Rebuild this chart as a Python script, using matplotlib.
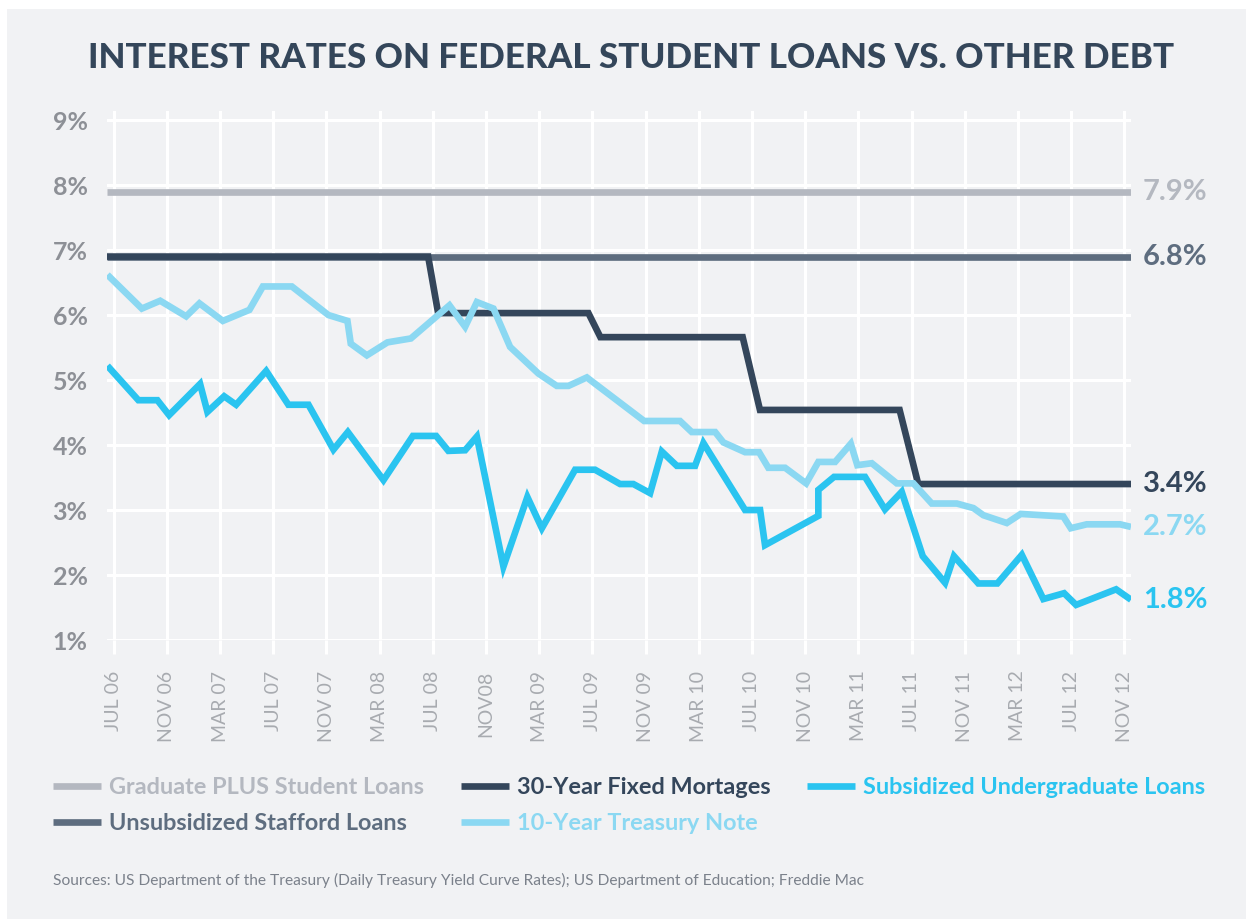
import matplotlib
matplotlib.use('Agg')
import matplotlib.pyplot as plt
from matplotlib.patches import Rectangle

plt.rcParams['font.family'] = ['Lato', 'DejaVu Sans']

# months since JUL 06
tick_months = list(range(0, 77, 4))
tick_labels = ['JUL 06', 'NOV 06', 'MAR 07', 'JUL 07', 'NOV 07', 'MAR 08', 'JUL 08',
               'NOV08', 'MAR 09', 'JUL 09', 'NOV 09', 'MAR 10', 'JUL 10', 'NOV 10',
               'MAR 11', 'JUL 11', 'NOV 11', 'MAR 12', 'JUL 12', 'NOV 12']

grad_months = [-0.5, 76.5]
grad_rates = [7.9, 7.9]

stafford_months = [-0.5, 76.5]
stafford_rates = [6.9, 6.9]

mort_months = [-0.5, 23.65, 24.4, 35.7, 36.6, 47.3, 48.6, 59.1, 60.5, 76.5]
mort_rates = [6.9, 6.9, 6.03, 6.03, 5.66, 5.66, 4.54, 4.54, 3.4, 3.4]

treas_months = [-0.47, 2.12, 3.5, 5.45, 6.45, 8.21, 10.21, 11.22, 13.4, 16.15,
                17.58, 17.83, 19.04, 20.59, 22.35, 25.25, 26.43, 27.31, 28.56, 29.81,
                31.94, 33.32, 34.2, 35.58, 39.89, 42.59, 43.47, 45.23, 45.85, 47.48,
                48.53, 49.23, 50.49, 52.07, 52.99, 54.25, 55.43, 55.92, 57.01, 58.89,
                60.14, 61.52, 63.4, 64.65, 65.4, 67.16, 68.21, 71.41, 71.97, 73.17,
                75.68, 76.5]
treas_rates = [6.62, 6.10, 6.22, 5.98, 6.18, 5.91, 6.08, 6.44, 6.44, 6.00,
               5.91, 5.56, 5.38, 5.58, 5.64, 6.15, 5.82, 6.20, 6.10, 5.51,
               5.10, 4.91, 4.91, 5.04, 4.37, 4.37, 4.20, 4.20, 4.04, 3.89,
               3.89, 3.65, 3.65, 3.41, 3.74, 3.74, 4.02, 3.69, 3.72, 3.41,
               3.41, 3.10, 3.10, 3.03, 2.92, 2.80, 2.94, 2.90, 2.72, 2.78,
               2.78, 2.74]

sub_months = [-0.47, 1.86, 3.29, 4.17, 6.5, 7.05, 8.31, 9.21, 11.47, 13.14,
              14.65, 16.53, 17.61, 20.29, 22.5, 24.25, 25.17, 26.43, 27.31, 29.31,
              31.11, 32.2, 34.7, 36.2, 38.08, 39.08, 40.34, 41.22, 42.35, 43.72,
              44.35, 47.48, 48.61, 48.98, 52.99, 52.99, 54.17, 56.5, 58.0, 59.26,
              60.84, 62.52, 63.19, 65.02, 66.45, 68.29, 69.91, 71.47, 72.37, 75.38,
              76.5]
sub_rates = [5.22, 4.69, 4.69, 4.46, 4.94, 4.51, 4.75, 4.62, 5.14, 4.62,
             4.62, 3.93, 4.20, 3.46, 4.14, 4.14, 3.91, 3.92, 4.13, 2.13,
             3.20, 2.72, 3.62, 3.62, 3.40, 3.40, 3.26, 3.90, 3.68, 3.68,
             4.03, 3.00, 3.00, 2.46, 2.91, 3.31, 3.51, 3.51, 3.01, 3.28,
             2.29, 1.88, 2.29, 1.87, 1.87, 2.31, 1.63, 1.72, 1.54, 1.78,
             1.62]

end_labels = ['7.9%', '6.8%', '3.4%', '2.7%', '1.8%']

c_grad = '#b4b8c0'
c_staff = '#5e6d7f'
c_mort = '#34465b'
c_treas = '#8bd8f2'
c_sub = '#2ac4f0'
bg = '#f1f2f4'

fig = plt.figure(figsize=(12.46, 9.21), dpi=100, facecolor='white')
fig.patches.append(Rectangle((7 / 1246, 2 / 921), 1 - 7 / 1246, (919 - 9) / 921,
                             transform=fig.transFigure, facecolor=bg, edgecolor='none', zorder=-10))

ax = fig.add_axes([107 / 1246, 1 - 640 / 921, 1024 / 1246, 529 / 921])
ax.set_facecolor(bg)

lw = 4.8
kw = dict(lw=lw, solid_joinstyle='miter', solid_capstyle='butt')
l_staff, = ax.plot(stafford_months, stafford_rates, color=c_staff, label='Unsubsidized Stafford Loans', zorder=2, **kw)
l_grad, = ax.plot(grad_months, grad_rates, color=c_grad, label='Graduate PLUS Student Loans', zorder=2, **kw)
l_mort, = ax.plot(mort_months, mort_rates, color=c_mort, label='30-Year Fixed Mortages', zorder=3, **kw)
l_treas, = ax.plot(treas_months, treas_rates, color=c_treas, label='10-Year Treasury Note', zorder=4, **kw)
l_sub, = ax.plot(sub_months, sub_rates, color=c_sub, label='Subsidized Undergraduate Loans', zorder=5, **kw)

ax.set_xlim(-0.5, 76.5)
ax.set_ylim(1, 9.14)
ax.set_yticks(range(1, 10))
ax.set_yticklabels([f'{v}%' for v in range(1, 10)], fontsize=18, fontweight='bold', color='#8d9096')
ax.set_xticks(tick_months)
ax.set_xticklabels(tick_labels, rotation=90, fontsize=14, fontweight='normal', color='#a8abb0')
ax.tick_params(axis='y', length=0, pad=14)
ax.tick_params(axis='x', length=10, width=2.2, color='white', pad=12)
ax.grid(True, color='white', lw=2.2, zorder=0)
ax.set_axisbelow(True)
for s in ax.spines.values():
    s.set_visible(False)

# labels at the right end of each line
ends = [(grad_rates[-1], c_grad), (stafford_rates[-1], c_staff), (mort_rates[-1], c_mort),
        (treas_rates[-1], c_treas), (sub_rates[-1], c_sub)]
for (val, col), txt in zip(ends, end_labels):
    ax.annotate(txt, xy=(1, val), xycoords=ax.get_yaxis_transform(), xytext=(8.5, 0),
                textcoords='offset points', va='center', ha='left', fontsize=21,
                fontweight='bold', color=col, annotation_clip=False)

fig.text(631 / 1246, 1 - 58 / 921, 'INTEREST RATES ON FEDERAL STUDENT LOANS VS. OTHER DEBT',
         ha='center', va='center', fontsize=25.2, fontweight='black', color='#34465a')

handles = [l_grad, l_staff, l_mort, l_treas, l_sub]
fig.legend(handles=handles, ncol=3, loc='upper left', bbox_to_anchor=(53 / 1246, 1 - 777 / 921),
           frameon=False, prop={'size': 16.9, 'weight': 'bold'}, labelcolor='linecolor',
           handlelength=2.05, handletextpad=0.35, columnspacing=1.55, labelspacing=0.66,
           borderpad=0, borderaxespad=0)

fig.text(53 / 1246, 1 - 880 / 921,
         'Sources: US Department of the Treasury (Daily Treasury Yield Curve Rates); '
         'US Department of Education; Freddie Mac',
         ha='left', va='center', fontsize=11.15, color='#7b818b')

fig.savefig('out.png', dpi=100, facecolor='white')
